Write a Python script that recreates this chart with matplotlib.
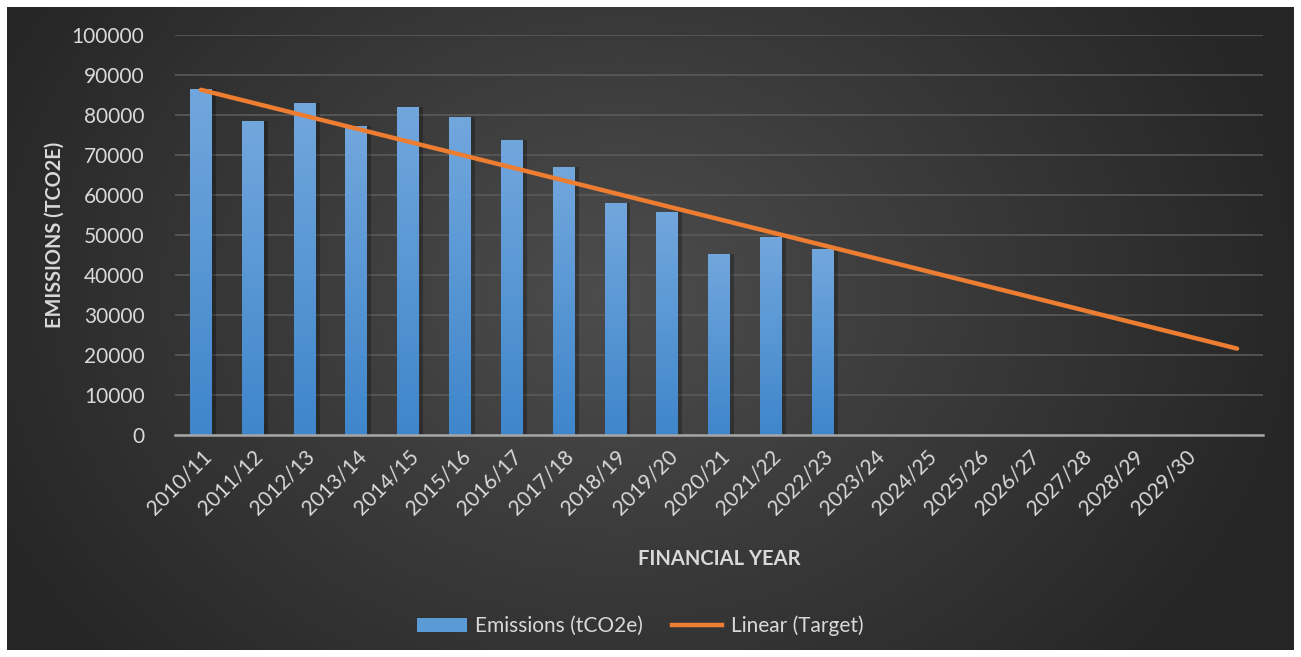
import numpy as np
import matplotlib
matplotlib.use("Agg")
import matplotlib.pyplot as plt
from matplotlib.lines import Line2D
from matplotlib.patches import Patch

years = ["2010/11", "2011/12", "2012/13", "2013/14", "2014/15", "2015/16", "2016/17",
         "2017/18", "2018/19", "2019/20", "2020/21", "2021/22", "2022/23", "2023/24",
         "2024/25", "2025/26", "2026/27", "2027/28", "2028/29", "2029/30", ""]
emissions = [86500, 78500, 83000, 77300, 82000, 79500, 73800, 67000, 58000, 55800,
             45300, 49500, 46500]
target_start = 86300
target_end = 21600

W, H = 1301, 657
fig = plt.figure(figsize=(W / 100, H / 100), dpi=100, facecolor="white")

# dark radial background
bg = fig.add_axes([7 / W, 7 / H, (W - 14) / W, (H - 14) / H])
gx, gy = np.meshgrid(np.linspace(-1, 1, 400), np.linspace(-1, 1, 200))
r = np.sqrt(((gx + 0.05) / 1.0) ** 2 + ((gy + 0.1) / 1.6) ** 2)
shade = np.clip(0.30 - 0.14 * r, 0.15, 0.30)
bg.imshow(np.dstack([shade] * 3), aspect="auto", extent=[0, 1, 0, 1])
bg.set_axis_off()

ax = fig.add_axes([175 / W, 222 / H, 1088 / W, 400 / H])
ax.patch.set_alpha(0)
x = np.arange(len(years))
n = len(emissions)

# soft shadow behind bars
ax.bar(x[:n] + 0.08, emissions, width=0.42, color="black", alpha=0.25, zorder=2)
bars = ax.bar(x[:n], emissions, width=0.42, color="#5b9bd5", zorder=3)

grad = np.linspace(0, 1, 256).reshape(-1, 1)
cmap = matplotlib.colors.LinearSegmentedColormap.from_list("b", ["#3f86cb", "#72a7dd"])
for b in bars:
    im = ax.imshow(grad, cmap=cmap, origin="lower", aspect="auto", zorder=3.5,
                   extent=[b.get_x(), b.get_x() + b.get_width(), 0, b.get_height()])
    im.set_clip_path(b)

ax.plot([x[0], x[-1]], [target_start, target_end], color="#ed7d31", lw=3.2,
        solid_capstyle="round", zorder=5)

ax.set_xlim(-0.5, len(years) - 0.5)
ax.set_ylim(0, 100000)
ax.set_yticks(np.arange(0, 100001, 10000))
ax.set_yticklabels([str(v) for v in range(0, 100001, 10000)])
ax.set_xticks(x)
ax.set_xticklabels(years, rotation=45, ha="right", rotation_mode="anchor")

for s in ["top", "right", "left"]:
    ax.spines[s].set_visible(False)
ax.spines["bottom"].set_color("#a6a6a6")
ax.spines["bottom"].set_linewidth(1.8)
ax.spines["bottom"].set_zorder(4)
ax.tick_params(axis="both", length=0, colors="#d9d9d9", labelsize=15, labelfontfamily="Lato")
ax.tick_params(axis="y", pad=22)
ax.tick_params(axis="x", pad=8)
ax.grid(axis="y", color="#5a5a5a", lw=1.2, zorder=1)
ax.set_axisbelow(True)

ax.set_xlabel("FINANCIAL YEAR", color="#d9d9d9", fontsize=14.5, fontweight="bold",
              family="Lato", labelpad=22)
ax.set_ylabel("EMISSIONS (TCO2E)", color="#d9d9d9", fontsize=14.3, fontweight="bold",
              family="Lato")
ax.yaxis.set_label_coords(-110 / 1088, 0.5)

handles = [Patch(facecolor="#5b9bd5", edgecolor="none"),
           Line2D([0], [0], color="#ed7d31", lw=3.2)]
fig.legend(handles, ["Emissions (tCO2e)", "Linear (Target)"], loc="center",
           bbox_to_anchor=(640 / W, 1 - 626 / H), ncol=2, frameon=False,
           prop={"family": "Lato", "size": 15}, labelcolor="#d9d9d9",
           handlelength=2.4, columnspacing=1.4, handletextpad=0.4)

fig.savefig("out.png", dpi=100, facecolor="white")
